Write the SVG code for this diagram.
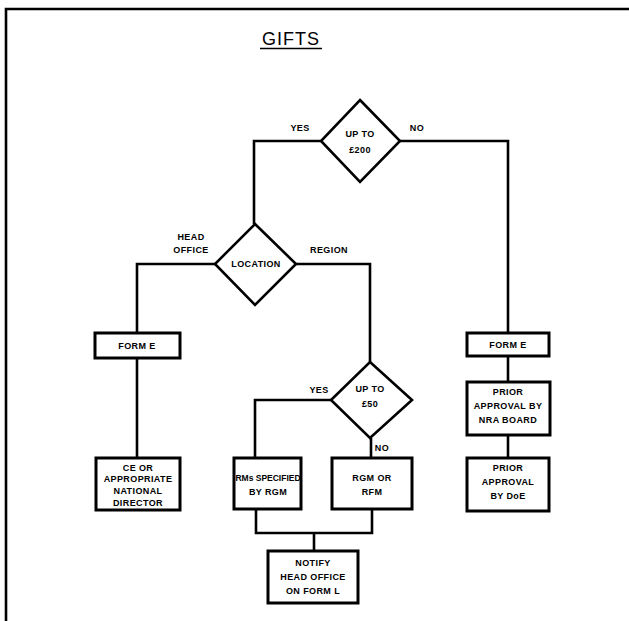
<svg xmlns="http://www.w3.org/2000/svg" width="629" height="621" viewBox="0 0 629 621">
<style>
.ln{fill:none;stroke:#000;stroke-width:2.6;stroke-linejoin:miter}
.bx{fill:#fff;stroke:#000;stroke-width:3}
.dm{fill:#fff;stroke:#000;stroke-width:2.6}
.t{font-family:"Liberation Sans",Arial,sans-serif;font-size:9px;font-weight:bold;fill:#000;text-anchor:middle;letter-spacing:0.4px}
.ttl{font-family:"Liberation Sans",Arial,sans-serif;font-size:18px;fill:#000;text-anchor:middle;letter-spacing:1px}
</style>
<rect width="629" height="621" fill="#fff"/>
<g id="frame"><path class="ln" d="M629,9 H6 V621" stroke-width="2.4"/></g>
<g id="title"><text class="ttl" x="291" y="45">GIFTS</text><line x1="260" y1="48.5" x2="322" y2="48.5" stroke="#000" stroke-width="1.6"/></g>
<g id="connectors">
<path class="ln" d="M321,141 H254 V224"/>
<path class="ln" d="M400,141 H508 V333"/>
<path class="ln" d="M215,264 H137 V333"/>
<path class="ln" d="M296,264 H370 V362"/>
<path class="ln" d="M137,358 V458"/>
<path class="ln" d="M331,400 H255 V458"/>
<path class="ln" d="M371,438 V458"/>
<path class="ln" d="M508,356 V382"/>
<path class="ln" d="M508,435 V458"/>
<path class="ln" d="M256,509 V533 H372 V509"/>
<path class="ln" d="M314,533 V551"/>
</g>
<g id="labels">
<text class="t" x="300" y="131">YES</text>
<text class="t" x="417" y="131">NO</text>
<text class="t" x="191" y="240">HEAD</text>
<text class="t" x="191" y="253">OFFICE</text>
<text class="t" x="329" y="253">REGION</text>
<text class="t" x="319" y="393">YES</text>
<text class="t" x="382" y="451">NO</text>
</g>
<g id="d200"><path class="dm" d="M360,100 L400,141 L360,182 L321,141 Z"/><text class="t" x="360" y="137">UP TO</text><text class="t" x="360" y="153">£200</text></g>
<g id="dloc"><path class="dm" d="M255,224 L296,264 L255,305 L215,264 Z"/><text class="t" x="256" y="267">LOCATION</text></g>
<g id="d50"><path class="dm" d="M370,362 L412,400 L370,438 L331,400 Z"/><text class="t" x="370" y="392">UP TO</text><text class="t" x="370" y="407">£50</text></g>
<g id="formE1"><rect class="bx" x="95" y="333" width="85" height="25"/><text class="t" x="137" y="349">FORM E</text></g>
<g id="ce"><rect class="bx" x="96" y="458" width="84" height="52"/><text class="t" x="138" y="471">CE OR</text><text class="t" x="138" y="482">APPROPRIATE</text><text class="t" x="138" y="494">NATIONAL</text><text class="t" x="138" y="506">DIRECTOR</text></g>
<g id="rms"><rect class="bx" x="234" y="458" width="67" height="51"/><text class="t" x="268" y="481" style="font-size:8.5px;letter-spacing:0">RMs SPECIFIED</text><text class="t" x="268" y="495">BY RGM</text></g>
<g id="rgm"><rect class="bx" x="332" y="458" width="80" height="51"/><text class="t" x="372" y="481">RGM OR</text><text class="t" x="372" y="495">RFM</text></g>
<g id="notify"><rect class="bx" x="268" y="551" width="90" height="52"/><text class="t" x="313" y="566">NOTIFY</text><text class="t" x="313" y="580">HEAD OFFICE</text><text class="t" x="313" y="594">ON FORM L</text></g>
<g id="formE2"><rect class="bx" x="467" y="333" width="82" height="23"/><text class="t" x="508" y="348">FORM E</text></g>
<g id="nra"><rect class="bx" x="467" y="382" width="83" height="53"/><text class="t" x="508" y="395">PRIOR</text><text class="t" x="508" y="409">APPROVAL BY</text><text class="t" x="508" y="423">NRA BOARD</text></g>
<g id="doe"><rect class="bx" x="467" y="458" width="82" height="53"/><text class="t" x="508" y="471">PRIOR</text><text class="t" x="508" y="485">APPROVAL</text><text class="t" x="508" y="499">BY DoE</text></g>
</svg>
